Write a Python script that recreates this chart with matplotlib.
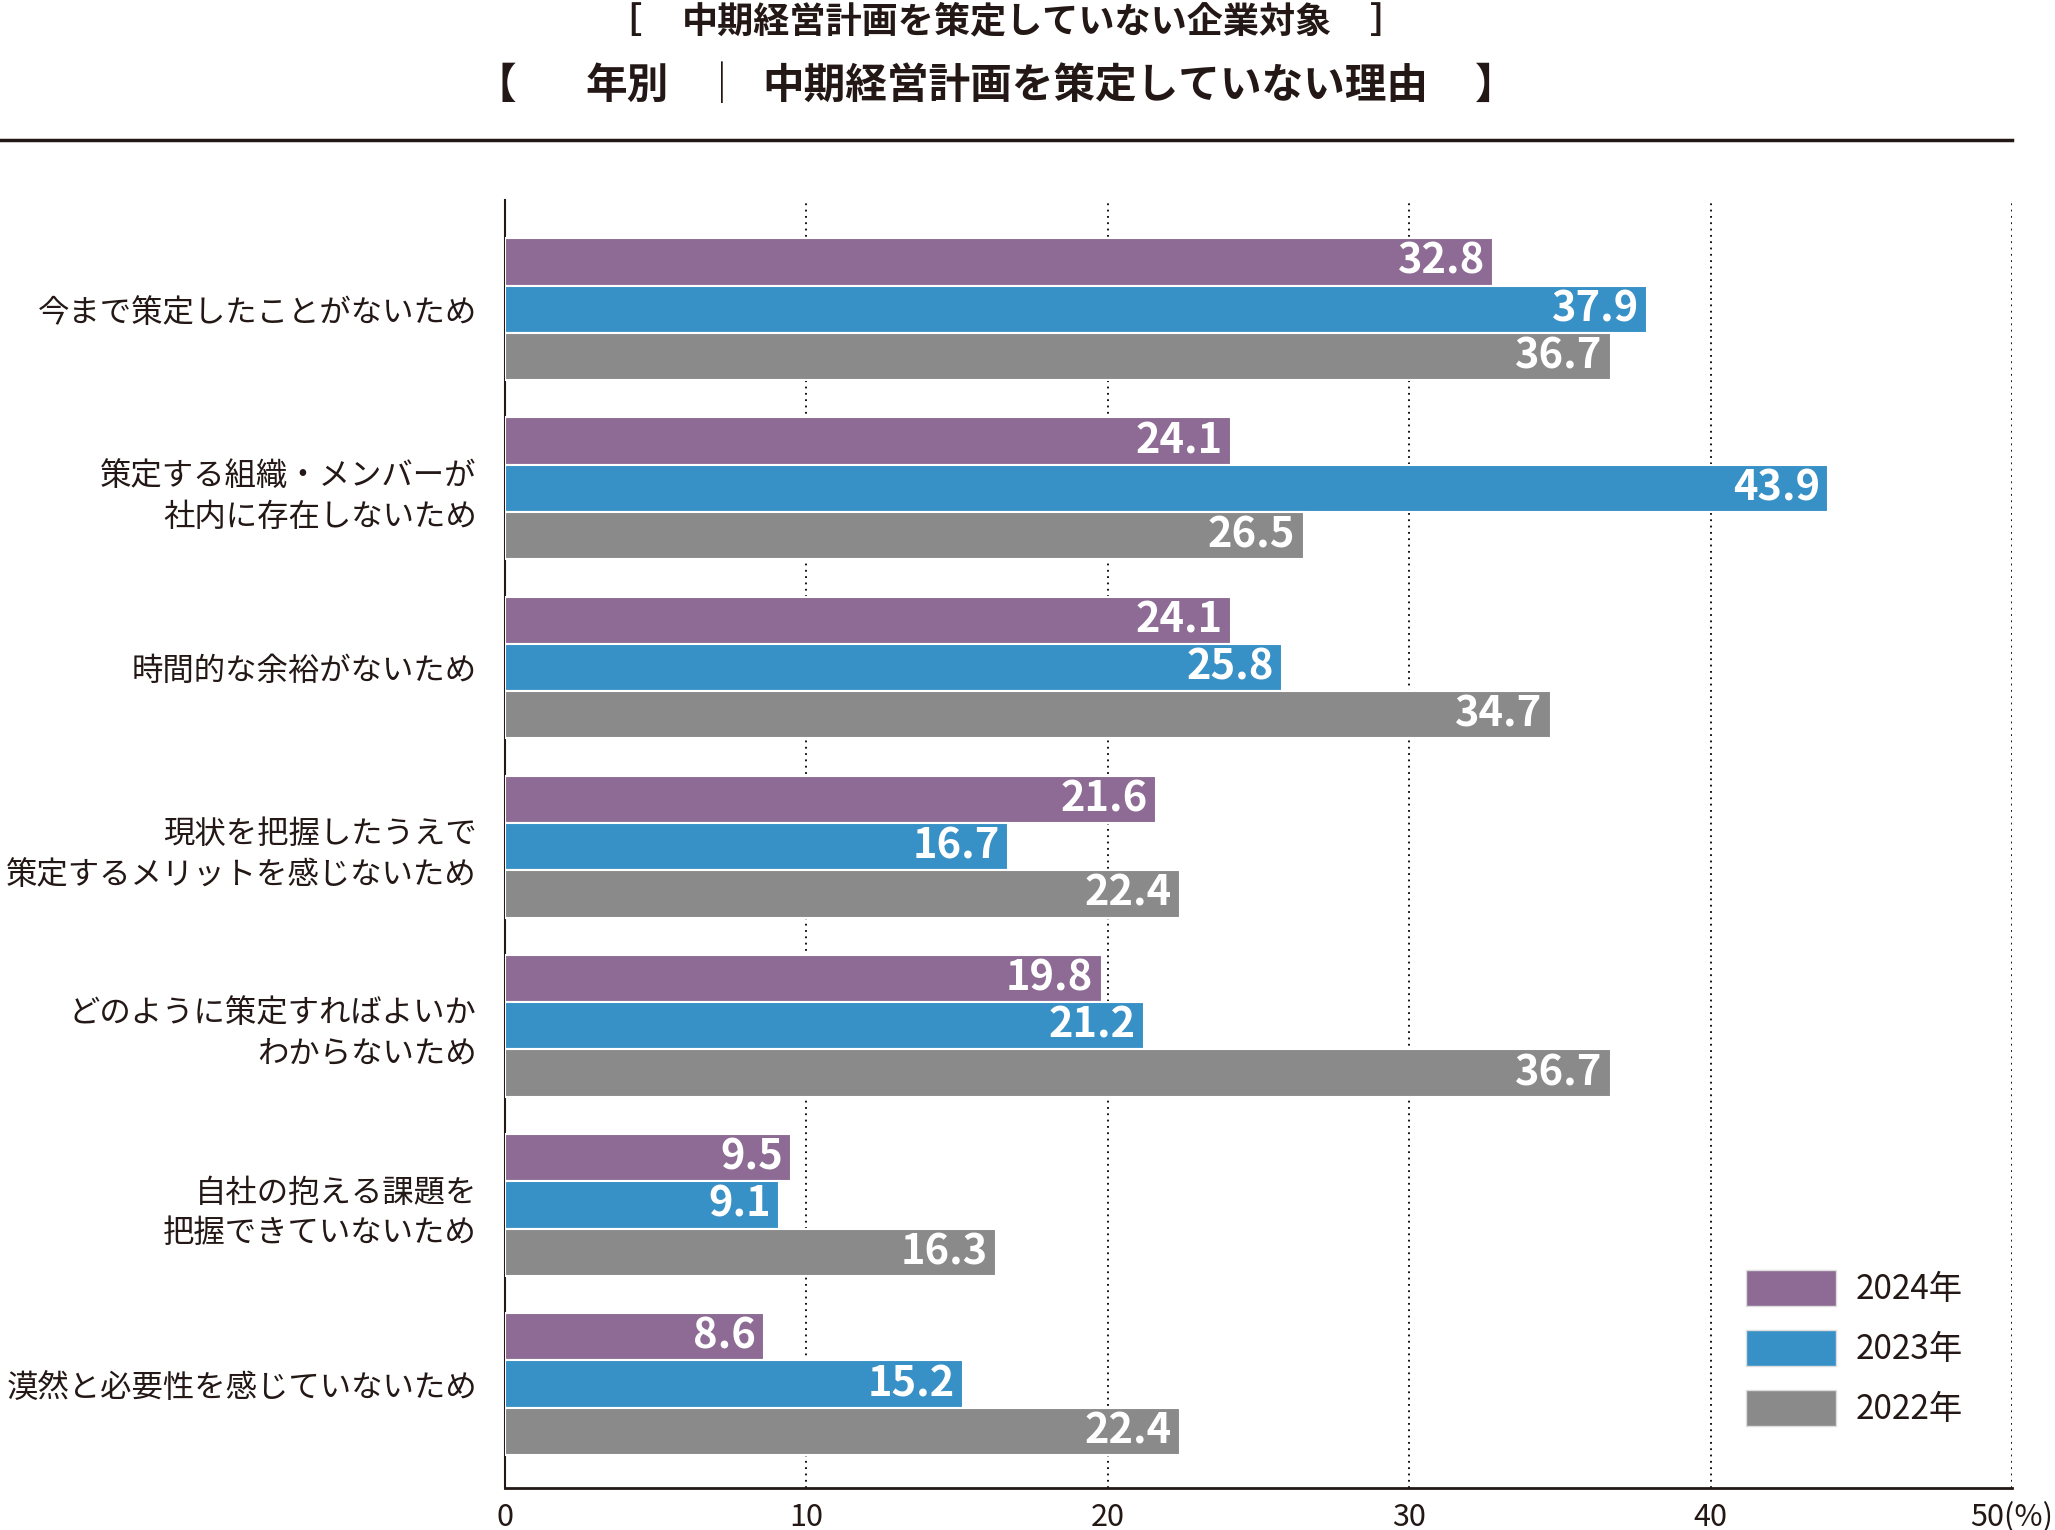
import numpy as np
import matplotlib
matplotlib.use("Agg")
import matplotlib.pyplot as plt
from matplotlib.patches import Patch

plt.rcParams['font.family'] = ['Noto Sans CJK JP', 'DejaVu Sans']

# data
categories = [
    "今まで策定したことがないため",
    "策定する組織・メンバーが\n社内に存在しないため",
    "時間的な余裕がないため",
    "現状を把握したうえで\n策定するメリットを感じないため",
    "どのように策定すればよいか\nわからないため",
    "自社の抱える課題を\n把握できていないため",
    "漠然と必要性を感じていないため",
]
years = ["2024年", "2023年", "2022年"]
v2024 = [32.8, 24.1, 24.1, 21.6, 19.8, 9.5, 8.6]
v2023 = [37.9, 43.9, 25.8, 16.7, 21.2, 9.1, 15.2]
v2022 = [36.7, 26.5, 34.7, 22.4, 36.7, 16.3, 22.4]
xticks = [0, 10, 20, 30, 40, 50]
xticklabels = ["0", "10", "20", "30", "40", "50(%)"]

colors = ["#8E6B94", "#3891C6", "#8A8A8A"]
txt = "#231815"
S = 1.3106  # shrunk preview -> full size

fig = plt.figure(figsize=(20.55, 15.3), dpi=100)
ax = fig.add_axes([504.6 / 2055, 1 - 1488 / 1530, (2012 - 504.6) / 2055, (1488 - 200) / 1530])

y = np.arange(len(categories))
h = 0.264
series = [v2024, v2023, v2022]
for k, vals in enumerate(series):
    pos = y + (k - 1) * h
    bars = ax.barh(pos, vals, height=h, color=colors[k], edgecolor="white",
                   linewidth=1.5, zorder=3)
    for b, v in zip(bars, vals):
        ax.annotate(f"{v:.1f}", (v, b.get_y() + b.get_height() / 2),
                    xytext=(-6, 0), textcoords="offset points",
                    ha="right", va="center", color="white",
                    fontsize=30, fontweight="bold", zorder=4)

ax.set_xlim(0, 50)
ax.set_ylim(len(categories) - 1 + 0.58, -0.61)
ax.set_xticks(xticks)
ax.set_xticklabels(xticklabels, fontsize=22, color=txt)
ax.set_yticks(y)
ax.set_yticklabels(categories, fontsize=22.6, color=txt, linespacing=1.35)
ax.tick_params(axis="both", length=0)
ax.tick_params(axis="x", pad=10)
ax.tick_params(axis="y", pad=20)

ax.grid(axis="x", linestyle=(0, (1, 2.5)), color="black", linewidth=1.3, zorder=1)
ax.set_axisbelow(True)
for s in ["top", "right"]:
    ax.spines[s].set_visible(False)
ax.spines["left"].set_color(txt)
ax.spines["left"].set_linewidth(1.5)
ax.spines["bottom"].set_color(txt)
ax.spines["bottom"].set_linewidth(2)

# legend
handles = [Patch(facecolor=c, edgecolor="#dddddd", linewidth=1) for c in colors]
fig.legend(handles, years, loc="upper left",
           bbox_to_anchor=(1746 / 2055, 1 - 1270 / 1530),
           frameon=False, fontsize=24, handlelength=2.7, handleheight=1.3,
           labelspacing=0.68, handletextpad=0.6, borderpad=0, borderaxespad=0,
           labelcolor=txt)

# titles
y1 = 1 - 22 / 1530
y2 = 1 - 86 / 1530
fig.text(462 * S / 2055, y1, "［", fontsize=26, fontweight="bold",
         color=txt, ha="left", va="center")
fig.text((517 + 1020) / 2 * S / 2055, y1, "中期経営計画を策定していない企業対象",
         fontsize=26, fontweight="bold", color=txt, ha="center", va="center")
fig.text(1045 * S / 2055, y1, "］", fontsize=26, fontweight="bold",
         color=txt, ha="left", va="center")

fig.text(362 * S / 2055, y2, "【", fontsize=30, fontweight="bold",
         color=txt, ha="left", va="center")
fig.text(447 * S / 2055, y2, "年別", fontsize=30, fontweight="bold",
         color=txt, ha="left", va="center")
fig.text(551 * S / 2055, y2, "｜", fontsize=30, fontweight="normal",
         color=txt, ha="center", va="center")
fig.text(582 * S / 2055, y2, "中期経営計画を策定していない理由",
         fontsize=30, fontweight="bold", color=txt, ha="left", va="center")
fig.text(1125 * S / 2055, y2, "】", fontsize=30, fontweight="bold",
         color=txt, ha="left", va="center")

fig.add_artist(plt.Line2D([0, 2012 / 2055], [1 - 140 / 1530, 1 - 140 / 1530],
                          transform=fig.transFigure, color=txt, linewidth=2.5))

fig.savefig("out.png", dpi=100, facecolor="white")
